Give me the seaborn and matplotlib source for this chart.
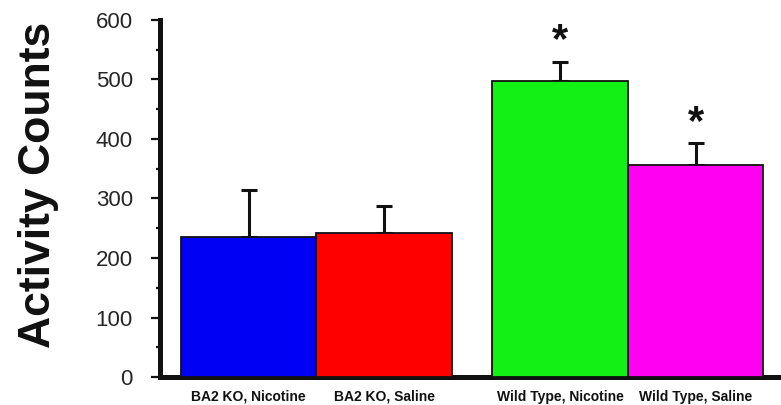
import matplotlib
matplotlib.use("Agg")
import matplotlib.pyplot as plt
from matplotlib.ticker import MultipleLocator
import numpy as np
import pandas as pd
import seaborn as sns

# ---- data ----
categories = ["BA2 KO, Nicotine", "BA2 KO, Saline", "Wild Type, Nicotine", "Wild Type, Saline"]
groups = ["BA2 KO", "BA2 KO", "Wild Type", "Wild Type"]
means = [235, 242, 498, 357]
errors = [80, 45, 32, 36]
significant = [False, False, True, True]
colors = ["#0000f5", "#ff0000", "#12f016", "#ff00f2"]

# ---- layout ----
group_gap = 0.3
group_index = pd.Series(groups).astype("category").cat.codes.to_numpy()
positions = np.arange(len(categories)) + group_gap * group_index

df = pd.DataFrame({"pos": positions, "category": categories, "value": means})

sns.set_style("white")
plt.rcParams["font.family"] = ["Liberation Sans", "DejaVu Sans"]

fig = plt.figure(figsize=(7.81, 4.05), dpi=100)
ax = fig.add_axes([160 / 781, 28 / 405, 621 / 781, 357 / 405])

sns.barplot(data=df, x="pos", y="value", hue="category", palette=colors,
            native_scale=True, width=1.0, errorbar=None, legend=False,
            saturation=1, edgecolor="#111111", linewidth=1.3, ax=ax, zorder=3)

ax.errorbar(positions, means, yerr=[np.zeros(len(means)), errors], fmt="none",
            ecolor="#111111", elinewidth=2.2, capsize=6, capthick=2.2, zorder=2)

for x, m, e, s in zip(positions, means, errors, significant):
    if s:
        ax.text(x, m + e + 34, "*", ha="center", va="center", fontsize=30,
                fontweight="bold", color="#111111")

ax.set_xlim(-0.654, positions[-1] + 0.63)
ax.set_ylim(0, 600)
ax.yaxis.set_major_locator(MultipleLocator(100))
ax.yaxis.set_minor_locator(MultipleLocator(50))

ax.set_xticks(positions)
ax.set_xticklabels(categories, fontsize=10, fontweight="bold", color="#111111")
ax.tick_params(axis="x", length=0, pad=9)
ax.tick_params(axis="y", which="major", length=6.5, width=1.6, color="#111111",
               labelsize=16, pad=13, left=True)
ax.tick_params(axis="y", which="minor", length=3.2, width=1.6, color="#111111", left=True)

for side in ["top", "right"]:
    ax.spines[side].set_visible(False)
for side in ["left", "bottom"]:
    ax.spines[side].set_linewidth(3.6)
    ax.spines[side].set_color("#111111")

ax.set_xlabel("")
ax.set_ylabel("Activity Counts", fontsize=32, fontweight="bold", color="#111111")
ax.yaxis.set_label_coords(-0.163, 0.538)

fig.savefig("out.png", dpi=100)
